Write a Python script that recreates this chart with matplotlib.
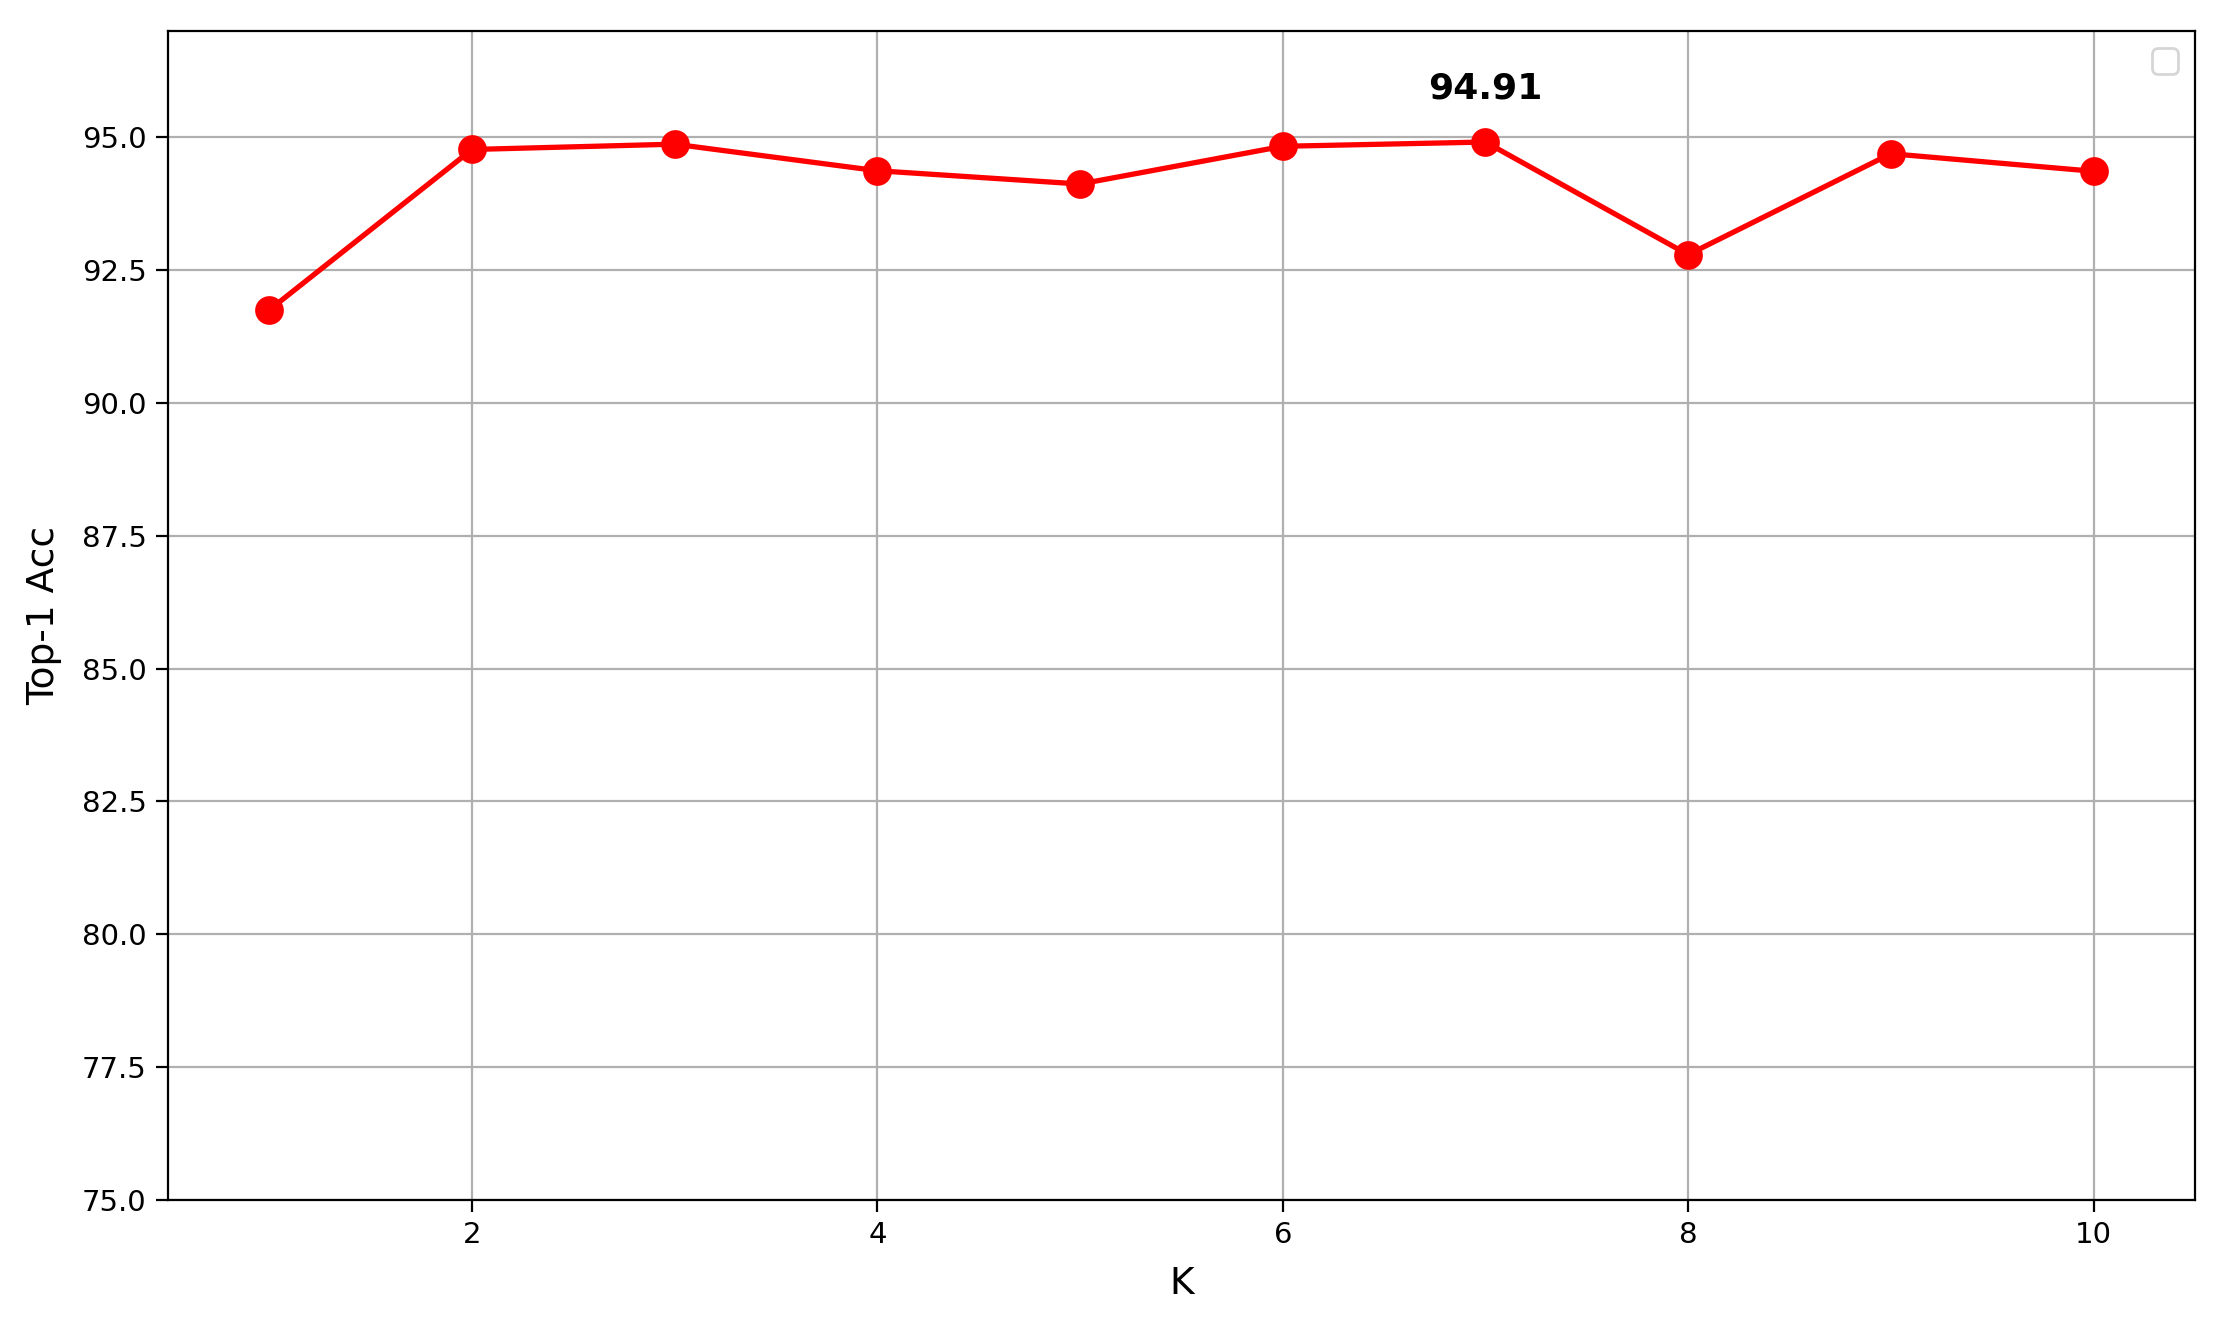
import matplotlib
matplotlib.use("Agg")
import matplotlib.pyplot as plt
import numpy as np

K = [1, 2, 3, 4, 5, 6, 7, 8, 9, 10]
top1_acc = [91.75, 94.77, 94.87, 94.37, 94.12, 94.83, 94.91, 92.79, 94.69, 94.36]
best_label = "94.91"
y_ticks = [75.0, 77.5, 80.0, 82.5, 85.0, 87.5, 90.0, 92.5, 95.0]

fig = plt.figure(figsize=(11.11, 6.59), dpi=200)
ax = fig.add_axes([0.0756, 0.0895, 0.9878 - 0.0756, 0.9765 - 0.0895])

ax.plot(K, top1_acc, color="red", linewidth=1.9, marker="o", markersize=9.4,
        markeredgewidth=0.94)

best_i = int(np.argmax(top1_acc))
ax.annotate(best_label, (K[best_i], top1_acc[best_i]), xytext=(0, 13),
            textcoords="offset points", ha="center", va="bottom",
            fontsize=13.0, fontweight="bold")

ax.set_xlim(0.5, 10.5)
ax.set_ylim(75, 97)
ax.set_yticks(y_ticks)
ax.set_yticklabels([f"{v:.1f}" for v in y_ticks])
ax.tick_params(labelsize=10.5, length=4.2)
ax.set_xlabel("K", fontsize=13.5, labelpad=6)
ax.set_ylabel("Top-1 Acc", fontsize=13.5, labelpad=7)
ax.grid(True)
ax.legend(prop={"size": 12})

fig.savefig("out.png", dpi=200)
